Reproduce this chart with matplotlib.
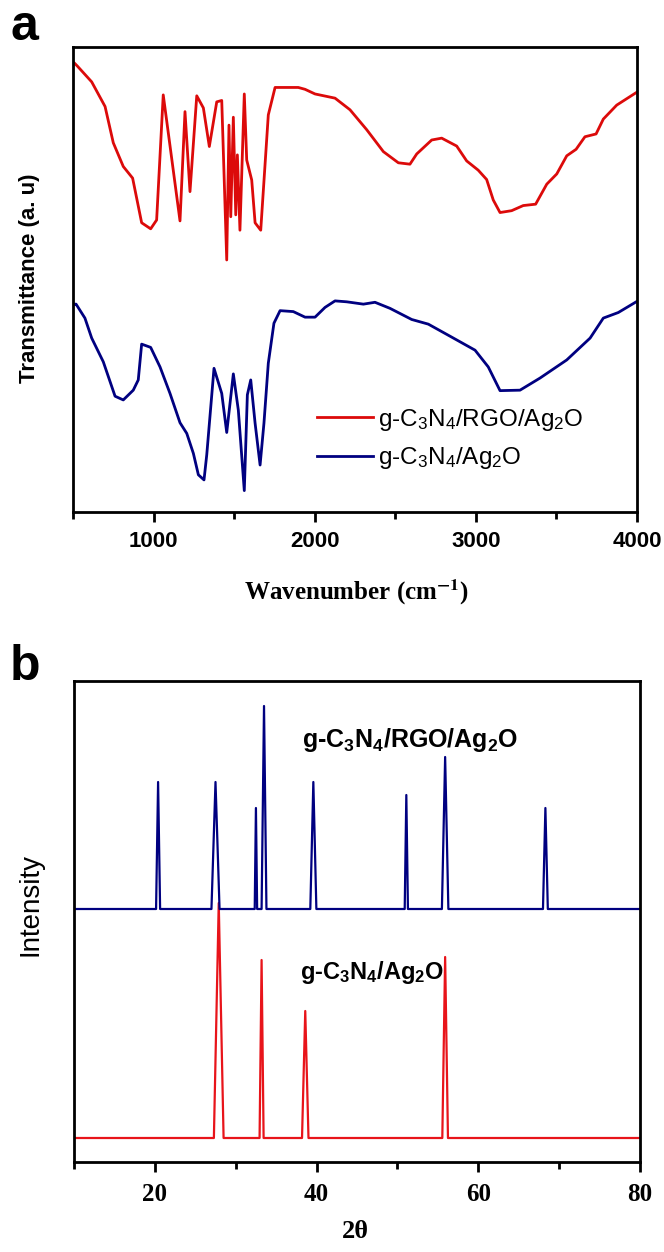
import numpy as np
import matplotlib
matplotlib.use('Agg')
import matplotlib.pyplot as plt
from matplotlib.ticker import MultipleLocator

plt.rcParams['font.family'] = 'Liberation Sans'
plt.rcParams['mathtext.fontset'] = 'custom'
plt.rcParams['mathtext.rm'] = 'Liberation Sans'
plt.rcParams['mathtext.it'] = 'Liberation Sans:italic'
plt.rcParams['mathtext.bf'] = 'Liberation Sans:bold'

# ---- (a) FTIR data ----
wn_rgo = [510, 527, 616, 699, 750, 812, 870, 926, 982, 1019, 1060, 1164, 1195, 1226,
          1268, 1309, 1346, 1392, 1423, 1454, 1468, 1479, 1495, 1510, 1520, 1536,
          1563, 1578, 1609, 1630, 1665, 1712, 1754, 1898, 1940, 2002, 2126, 2219,
          2323, 2426, 2519, 2591, 2633, 2726, 2788, 2881, 2943, 3015, 3067, 3108,
          3150, 3222, 3294, 3371, 3440, 3502, 3564, 3622, 3677, 3746, 3791, 3874, 4000]
tr_rgo = [96.5, 95.9, 92.5, 87.2, 79.4, 74.3, 71.8, 62.2, 60.9, 62.8, 89.7, 62.6, 86.1, 68.9,
          89.5, 86.9, 78.6, 88.2, 88.5, 54.2, 83.2, 63.5, 84.9, 63.9, 76.8, 60.6,
          89.9, 75.7, 71.4, 62.2, 60.6, 85.4, 91.3, 91.3, 90.9, 89.9, 89.0, 86.5,
          82.2, 77.5, 75.1, 74.8, 77.0, 80.0, 80.4, 78.7, 75.5, 73.5, 71.5, 67.1,
          64.4, 64.8, 65.9, 66.2, 70.5, 72.7, 76.6, 78.0, 80.7, 81.3, 84.5, 87.5, 90.3]

wn_ag = [510, 519, 574, 616, 688, 761, 812, 874, 905, 926, 982, 1040, 1102, 1164, 1206,
         1247, 1278, 1313, 1330, 1375, 1423, 1454, 1495, 1526, 1563, 1582, 1603, 1630,
         1661, 1685, 1712, 1747, 1785, 1867, 1940, 2002, 2064, 2126, 2199, 2302, 2374,
         2467, 2602, 2705, 2840, 2995, 3077, 3150, 3274, 3398, 3564, 3709, 3791, 3884, 4000]
tr_ag = [44.7, 44.7, 41.7, 37.4, 32.3, 24.9, 24.1, 26.2, 28.4, 36.1, 35.4, 31.2, 25.5, 19.2, 16.9,
         12.6, 8.0, 6.9, 12.3, 30.9, 25.5, 17.1, 29.7, 21.9, 4.6, 25.2, 28.4, 19.1,
         10.1, 19.1, 32.0, 40.6, 43.3, 43.1, 41.9, 41.9, 44.0, 45.4, 45.2, 44.7, 45.1,
         43.8, 41.4, 40.4, 37.8, 34.8, 31.2, 26.1, 26.2, 28.8, 32.7, 37.4, 41.7, 42.9, 45.3]

# ---- (b) XRD peaks: centre (2theta), height, base width ----
pk_rgo_pos = [20.4, 27.5, 32.5, 33.5, 39.6, 51.1, 55.9, 68.3]
pk_rgo_h = [127, 127, 101, 203, 127, 114, 152, 101]
pk_rgo_w = [0.5, 1.0, 0.3, 0.6, 0.75, 0.4, 0.8, 0.6]
base_rgo = 253

pk_ag_pos = [27.9, 33.2, 38.6, 55.9]
pk_ag_h = [235, 178, 127, 181]
pk_ag_w = [1.2, 0.5, 0.8, 0.7]
base_ag = 24


def xrd_line(pos, h, w, base):
    xs, ys = [10], [base]
    for c, hh, ww in zip(pos, h, w):
        xs += [c - ww / 2, c, c + ww / 2]
        ys += [base, base + hh, base]
    xs.append(80)
    ys.append(base)
    return xs, ys


W, H = 664, 1252
fig = plt.figure(figsize=(W / 100, H / 100), dpi=100)


def box(l, t, r, b):
    return [l / W, 1 - b / H, (r - l) / W, (b - t) / H]


red_a = '#dc0a0a'
blue = '#000080'

# ---------------- panel a ----------------
ax1 = fig.add_axes(box(73, 47, 637, 512))
ax1.plot(wn_rgo, tr_rgo, color=red_a, lw=2.0, label=r'g-C$_3$N$_4$/RGO/Ag$_2$O')
ax1.plot(wn_ag, tr_ag, color=blue, lw=2.0, label=r'g-C$_3$N$_4$/Ag$_2$O')
ax1.set_xlim(500, 4000)
ax1.set_ylim(0, 100)
ax1.xaxis.set_major_locator(MultipleLocator(1000))
ax1.xaxis.set_minor_locator(MultipleLocator(500))
ax1.set_yticks([])
ax1.tick_params(axis='x', which='major', direction='out', length=7, width=2, pad=7)
ax1.tick_params(axis='x', which='minor', direction='out', length=5, width=2)
for lab in ax1.get_xticklabels():
    lab.set_fontsize(16)
    lab.set_fontweight('bold')
for s in ax1.spines.values():
    s.set_linewidth(2)
leg = ax1.legend(loc='upper left', bbox_to_anchor=(317 / W, 1 - 407 / H),
                 bbox_transform=fig.transFigure, frameon=False, fontsize=17.5,
                 handlelength=2.3, handletextpad=0.2, labelspacing=0.5,
                 borderpad=0, borderaxespad=0)

fig.text(356 / W, 1 - 592 / H, r'Wavenumber (cm$^{\mathbf{-1}}$)', ha='center', va='center',
         family='Liberation Serif', weight='bold', fontsize=18, math_fontfamily='stix')
fig.text(30 / W, 1 - 278 / H, 'Transmittance (a. u)', ha='center', va='center',
         rotation=90, weight='bold', fontsize=16)
fig.text(10 / W, 1 - 40 / H, 'a', ha='left', va='baseline', weight='bold', fontsize=36)

# ---------------- panel b ----------------
ax2 = fig.add_axes(box(74, 681, 640, 1162))
x_ag, y_ag = xrd_line(pk_ag_pos, pk_ag_h, pk_ag_w, base_ag)
x_rgo, y_rgo = xrd_line(pk_rgo_pos, pk_rgo_h, pk_rgo_w, base_rgo)
ax2.plot(x_ag, y_ag, color='#e8141a', lw=1.6)
ax2.plot(x_rgo, y_rgo, color=blue, lw=1.6)
ax2.set_xlim(10, 80)
ax2.set_ylim(0, 481)
ax2.xaxis.set_major_locator(MultipleLocator(20))
ax2.xaxis.set_minor_locator(MultipleLocator(10))
ax2.set_yticks([])
ax2.tick_params(axis='x', which='major', direction='out', length=7, width=2, pad=8)
ax2.tick_params(axis='x', which='minor', direction='out', length=5, width=2)
for lab in ax2.get_xticklabels():
    lab.set_fontsize(18)
    lab.set_fontweight('bold')
    lab.set_family('Liberation Serif')
for s in ax2.spines.values():
    s.set_linewidth(2)

ax2.text(302 / W, 1 - 740 / H,
         r'g-C$_{\mathbf{3}}$N$_{\mathbf{4}}$/RGO/Ag$_{\mathbf{2}}$O',
         transform=fig.transFigure, ha='left', va='center', weight='bold', fontsize=18)
ax2.text(300 / W, 1 - 972 / H,
         r'g-C$_{\mathbf{3}}$N$_{\mathbf{4}}$/Ag$_{\mathbf{2}}$O',
         transform=fig.transFigure, ha='left', va='center', weight='bold', fontsize=17)

fig.text(355 / W, 1 - 1232 / H, '2θ', ha='center', va='center',
         family='Liberation Serif', weight='bold', fontsize=19)
fig.text(30 / W, 1 - 905 / H, 'Intensity', ha='center', va='center',
         rotation=90, fontsize=20)
fig.text(10 / W, 1 - 680 / H, 'b', ha='left', va='baseline', weight='bold', fontsize=36)

fig.savefig('out.png', dpi=100)
